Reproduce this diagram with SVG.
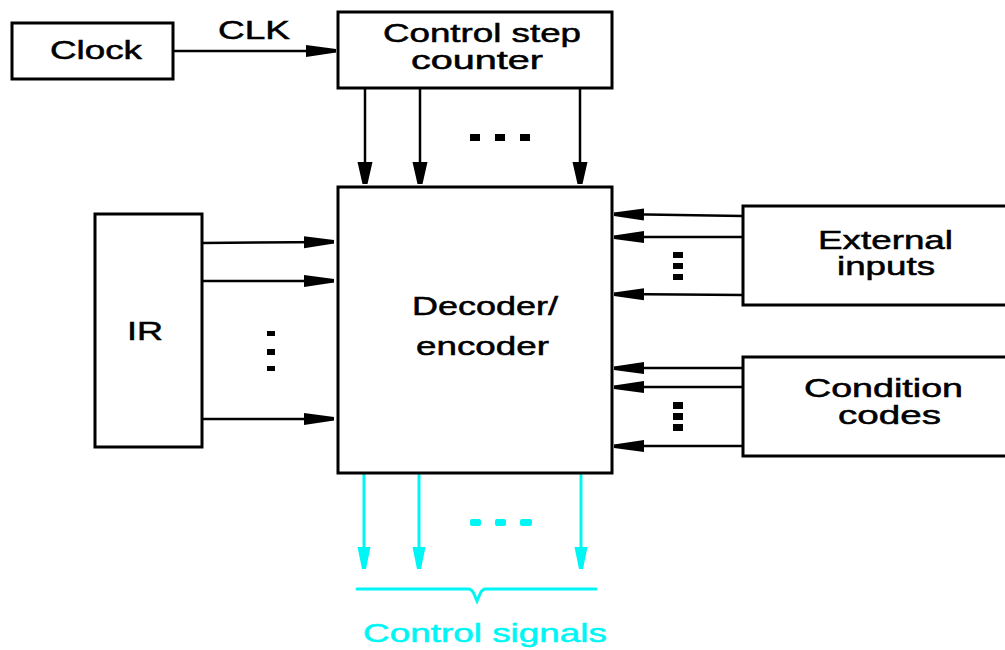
<svg xmlns="http://www.w3.org/2000/svg" width="1005" height="650" viewBox="0 0 1005 650">
<defs>
<style>
.box{fill:#fff;stroke:#000;stroke-width:3}
.t{font-family:"Liberation Sans",Arial,sans-serif;font-size:25px;fill:#000;stroke:#000;stroke-width:0.5}
.ln{stroke:#000;stroke-width:2.5;fill:none}
.cy{stroke:#00f5f5;stroke-width:3;fill:none}
.dot{fill:#000}
.cdot{fill:#00f5f5}
</style>
<marker id="ah" markerUnits="userSpaceOnUse" markerWidth="32" markerHeight="16" refX="30" refY="8" orient="auto">
<path d="M0,2 L30,6 L30,9.5 L0,14 Z" fill="#000"/>
</marker>
<marker id="ahv" markerUnits="userSpaceOnUse" markerWidth="24" markerHeight="18" refX="22" refY="9" orient="auto">
<path d="M0,1.5 L22,6.5 L22,11.5 L0,16.5 Z" fill="#000"/>
</marker>
<marker id="ahc" markerUnits="userSpaceOnUse" markerWidth="24" markerHeight="16" refX="22" refY="8" orient="auto">
<path d="M0,1.5 L22,6 L22,10 L0,14.5 Z" fill="#00f5f5"/>
</marker>
</defs>

<g id="connectors">
<line class="ln" x1="173" y1="51" x2="336" y2="51" marker-end="url(#ah)"/>
<line class="ln" x1="365" y1="88" x2="365" y2="184" marker-end="url(#ahv)"/>
<line class="ln" x1="420" y1="88" x2="420" y2="184" marker-end="url(#ahv)"/>
<line class="ln" x1="580" y1="88" x2="580" y2="184" marker-end="url(#ahv)"/>
<line class="ln" x1="202" y1="243" x2="334" y2="242" marker-end="url(#ah)"/>
<line class="ln" x1="202" y1="281" x2="334" y2="281" marker-end="url(#ah)"/>
<line class="ln" x1="202" y1="419" x2="334" y2="419" marker-end="url(#ah)"/>
<line class="ln" x1="743" y1="216" x2="614" y2="214" marker-end="url(#ah)"/>
<line class="ln" x1="743" y1="237" x2="614" y2="237" marker-end="url(#ah)"/>
<line class="ln" x1="743" y1="295" x2="614" y2="294" marker-end="url(#ah)"/>
<line class="ln" x1="743" y1="368" x2="614" y2="368" marker-end="url(#ah)"/>
<line class="ln" x1="743" y1="387" x2="614" y2="387" marker-end="url(#ah)"/>
<line class="ln" x1="743" y1="446" x2="614" y2="446" marker-end="url(#ah)"/>
<line class="cy" x1="364" y1="474" x2="364" y2="569" marker-end="url(#ahc)"/>
<line class="cy" x1="419" y1="474" x2="419" y2="569" marker-end="url(#ahc)"/>
<line class="cy" x1="581" y1="474" x2="581" y2="569" marker-end="url(#ahc)"/>
<path class="cy" d="M357,589 L468,589 Q472,589 474,594 L477,601 L480,594 Q482,589 486,589 L596,589" stroke-linecap="round"/>
<g id="dots">
<rect class="dot" x="470" y="134" width="10" height="7"/>
<rect class="dot" x="495" y="134" width="10" height="7"/>
<rect class="dot" x="520" y="134" width="10" height="7"/>
<rect class="dot" x="267" y="331" width="8" height="5"/>
<rect class="dot" x="267" y="349" width="8" height="6"/>
<rect class="dot" x="267" y="366" width="8" height="5"/>
<rect class="dot" x="673" y="252" width="10" height="6"/>
<rect class="dot" x="673" y="263" width="10" height="6"/>
<rect class="dot" x="673" y="274" width="10" height="6"/>
<rect class="dot" x="673" y="402" width="10" height="7"/>
<rect class="dot" x="673" y="413" width="10" height="7"/>
<rect class="dot" x="673" y="424" width="10" height="7"/>
<rect class="cdot" x="470" y="519" width="11" height="7" rx="2"/>
<rect class="cdot" x="495" y="519" width="11" height="7" rx="2"/>
<rect class="cdot" x="520" y="519" width="12" height="7" rx="2"/>
</g>
<text class="t" x="218" y="39" font-size="22" textLength="72" lengthAdjust="spacingAndGlyphs">CLK</text>
</g>

<g id="clock">
<rect class="box" x="12" y="23" width="161" height="56"/>
<text class="t" x="50" y="59" textLength="92" lengthAdjust="spacingAndGlyphs">Clock</text>
</g>

<g id="counter">
<rect class="box" x="338" y="12" width="274" height="76"/>
<text class="t" x="383" y="42" textLength="198" lengthAdjust="spacingAndGlyphs">Control step</text>
<text class="t" x="411" y="69" textLength="132" lengthAdjust="spacingAndGlyphs">counter</text>
</g>

<g id="decoder">
<rect class="box" x="338" y="187" width="274" height="286"/>
<text class="t" x="412" y="315" textLength="146" lengthAdjust="spacingAndGlyphs">Decoder/</text>
<text class="t" x="416" y="355" textLength="133" lengthAdjust="spacingAndGlyphs">encoder</text>
</g>

<g id="ir">
<rect class="box" x="95" y="214" width="107" height="233"/>
<text class="t" x="127" y="340" textLength="36" lengthAdjust="spacingAndGlyphs">IR</text>
</g>

<g id="external">
<rect class="box" x="743" y="206" width="270" height="99"/>
<text class="t" x="818" y="249" textLength="135" lengthAdjust="spacingAndGlyphs">External</text>
<text class="t" x="837" y="275" textLength="98" lengthAdjust="spacingAndGlyphs">inputs</text>
</g>

<g id="condition">
<rect class="box" x="743" y="357" width="270" height="99"/>
<text class="t" x="804" y="397" textLength="159" lengthAdjust="spacingAndGlyphs">Condition</text>
<text class="t" x="838" y="424" textLength="103" lengthAdjust="spacingAndGlyphs">codes</text>
</g>

<g id="signals">
<text class="t" x="363" y="642" style="fill:#00f5f5;stroke:#00f5f5" textLength="244" lengthAdjust="spacingAndGlyphs">Control signals</text>
</g>
</svg>
